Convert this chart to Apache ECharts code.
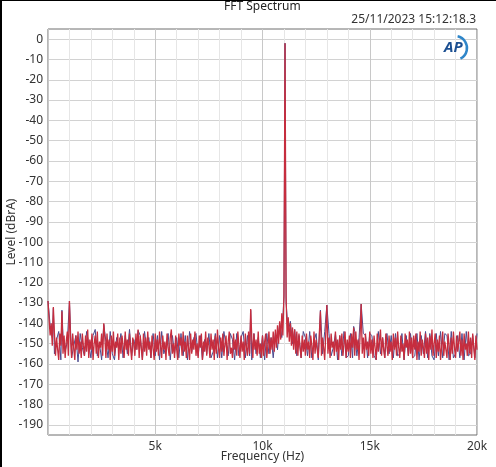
<!DOCTYPE html>
<html>
<head>
<meta charset="utf-8">
<script src="https://cdn.jsdelivr.net/npm/echarts@6/dist/echarts.min.js"></script>
<style>
html, body { margin: 0; padding: 0; background: #fff; }
#main {
  width: 496px;
  height: 467px;
  box-sizing: border-box;
  border-top: 1px solid #000;
  border-left: 2px solid #000;
}
</style>
</head>
<body>
<div id="main"></div>
<script>
// channel A (red): FFT bins 50 Hz apart, 0 .. 20 kHz
const redBinHz = 50;
const levelRed = [
  -129, -138, -146, -140, -151, -150, -145, -156, -147, -153, -158, -145, -151, -150, -155, -146, -157, -149, -144, -156,
  -150, -147, -157, -145, -152, -158, -146, -153, -144, -155, -149, -157, -145, -151, -156, -146, -154, -143, -157, -148,
  -153, -145, -158, -150, -146, -155, -144, -157, -149, -152, -145, -156, -150, -147, -157, -145, -153, -148, -158, -146,
  -154, -144, -156, -149, -152, -145, -158, -147, -155, -146, -151, -157, -144, -153, -148, -156, -145, -152, -158, -147,
  -150, -156, -145, -153, -150, -157, -146, -152, -158, -145, -154, -147, -156, -144, -153, -149, -157, -146, -152, -158,
  -145, -154, -148, -156, -144, -151, -157, -146, -153, -149, -158, -145, -152, -156, -147, -143, -155, -150, -157, -146,
  -153, -158, -145, -151, -147, -156, -144, -154, -149, -157, -146, -152, -158, -145, -155, -148, -153, -144, -156, -150,
  -157, -146, -152, -145, -158, -149, -154, -144, -156, -147, -151, -157, -145, -153, -148, -158, -146, -155, -143, -152,
  -157, -147, -154, -145, -156, -150, -146, -158, -149, -144, -155, -152, -157, -145, -153, -148, -156, -144, -151, -157,
  -146, -154, -149, -158, -145, -152, -156, -144, -155, -150, -147, -157, -145, -153, -148, -156, -144, -155, -150, -157,
  -146, -156, -149, -145, -157, -151, -144, -155, -147, -153, -144, -154, -143, -152, -141, -150, -139, -148, -135, -146,
  -126, -120, -127, -147, -137, -149, -140, -151, -142, -153, -143, -155, -144, -156, -145, -152, -157, -146, -154, -148,
  -156, -145, -153, -149, -157, -146, -151, -158, -144, -155, -148, -153, -157, -145, -150, -156, -147, -152, -158, -145,
  -150, -155, -147, -157, -145, -152, -149, -156, -144, -154, -148, -158, -146, -153, -145, -156, -150, -144, -157, -148,
  -154, -146, -157, -145, -152, -150, -156, -144, -153, -148, -158, -146, -150, -155, -147, -157, -145, -153, -149, -156,
  -144, -155, -148, -157, -146, -152, -158, -145, -154, -149, -143, -156, -147, -153, -157, -145, -151, -156, -146, -154,
  -149, -158, -145, -153, -147, -156, -144, -152, -157, -146, -154, -150, -158, -145, -152, -148, -156, -144, -155, -147,
  -157, -146, -153, -145, -158, -149, -154, -144, -156, -148, -152, -157, -145, -155, -147, -158, -146, -153, -143, -156,
  -150, -145, -157, -148, -154, -146, -158, -152, -144, -156, -149, -153, -157, -145, -151, -158, -147, -155, -144, -152,
  -157, -146, -154, -149, -144, -156, -148, -158, -145, -153, -150, -156, -144, -155, -147, -157, -145, -152, -158, -146,
  -153
];

// channel B (blue): FFT bins 100 Hz apart, 0 .. 20 kHz
const blueBinHz = 100;
const levelBlue = [
  -129, -141, -147, -155, -148, -144, -158, -146, -154, -149,
  -144, -157, -151, -146, -159, -145, -152, -156, -144, -150,
  -157, -146, -143, -156, -150, -158, -145, -149, -157, -144,
  -155, -158, -147, -152, -145, -157, -146, -155, -143, -156,
  -148, -153, -145, -146, -158, -144, -152, -147, -157, -145,
  -156, -146, -158, -144, -155, -151, -145, -158, -146, -155,
  -147, -157, -145, -156, -146, -158, -144, -154, -147, -145,
  -156, -146, -158, -148, -155, -145, -157, -154, -145, -157,
  -146, -157, -144, -151, -156, -145, -148, -158, -145, -156,
  -147, -144, -157, -146, -156, -158, -145, -155, -147, -157,
  -146, -158, -145, -155, -147, -157, -145, -153, -140, -147,
  -127, -130, -144, -139, -150, -143, -156, -146, -157, -144,
  -147, -156, -144, -157, -149, -145, -158, -146, -155, -144,
  -157, -145, -156, -152, -145, -158, -146, -156, -144, -157,
  -156, -145, -157, -144, -156, -147, -158, -145, -146, -157,
  -145, -146, -156, -158, -144, -155, -147, -157, -145, -155,
  -146, -157, -145, -156, -155, -145, -158, -146, -156, -145,
  -157, -156, -145, -158, -146, -155, -144, -157, -145, -156,
  -158, -145, -156, -144, -157, -145, -146, -158, -144, -157,
  -155, -146, -157, -145, -158, -144, -156, -155, -146, -157,
  -145
];

// main tone and spurs (Hz) with their levels in each channel
const spurFreq = [250, 650, 1000, 2600, 4200, 9450, 11050, 12700, 13000, 14250, 14600];
const spurRed  = [-132, -134, -129, -140, -143, -133, -2, -134, -131, -142, -130.5];
const spurBlue = [-132.5, -133.5, -129, -140.5, -143.5, -133.5, -2, -133.5, -131, -141.5, -130.5];

const yLabels = [0, -10, -20, -30, -40, -50, -60, -70, -80, -90, -100,
  -110, -120, -130, -140, -150, -160, -170, -180, -190];
const xLabels = { 5000: "5k", 10000: "10k", 15000: "15k", 20000: "20k" };

function buildPoints(levels, binHz, spurs) {
  let byFreq = {};
  levels.forEach((v, i) => { byFreq[i * binHz] = v; });
  spurFreq.forEach((f, k) => { byFreq[f] = spurs[k]; });
  return Object.keys(byFreq)
    .map(Number)
    .sort((a, b) => a - b)
    .map(f => [f, byFreq[f]]);
}

var myChart = echarts.init(document.getElementById("main"));
var labelFont = "'Noto Sans', 'Open Sans', sans-serif";

myChart.setOption({
  animation: false,
  textStyle: { fontFamily: labelFont },
  grid: {
    left: 46, right: 19, top: 28, bottom: 32,
    outerBoundsMode: "none",
    containLabel: false,
    show: true, borderColor: "#6e6e6e", borderWidth: 1, backgroundColor: "#fff"
  },
  graphic: [
    { type: "text", left: 222, top: 0, style: { text: "FFT Spectrum", fill: "#222", font: "12px " + labelFont } },
    { type: "text", right: 20, top: 13, style: { text: "25/11/2023 15:12:18.3", fill: "#333", font: "12px " + labelFont } },
    { type: "arc", shape: { cx: 453, cy: 47, r: 12, startAngle: -1.35, endAngle: 1.1, clockwise: true }, style: { stroke: "#2f86c9", lineWidth: 2.5, fill: null }, z: 100 },
    { type: "text", left: 442, top: 39, style: { text: "AP", fill: "#1b4f91", font: "italic bold 15px " + labelFont }, z: 101 }
  ],
  xAxis: {
    type: "value",
    min: 0,
    max: 20000,
    interval: 1000,
    name: "Frequency (Hz)",
    nameLocation: "middle",
    nameGap: 16,
    nameMoveOverlap: false,
    nameTextStyle: { color: "#333", fontSize: 12 },
    axisLine: { show: false },
    axisTick: { show: false },
    axisLabel: {
      color: "#333",
      fontSize: 12,
      margin: 6,
      showMinLabel: true,
      showMaxLabel: true,
      formatter: function (v) { return xLabels[v] || ""; }
    },
    splitLine: { show: true, lineStyle: { color: ["#c8c8c8", "#e6e6e6", "#e6e6e6", "#e6e6e6", "#e6e6e6"], width: 1 } }
  },
  yAxis: {
    type: "value",
    min: -195,
    max: 5,
    interval: 5,
    name: "Level (dBrA)",
    nameLocation: "middle",
    nameGap: 30,
    nameMoveOverlap: false,
    nameTextStyle: { color: "#333", fontSize: 12 },
    axisLine: { show: false },
    axisTick: { show: false },
    axisLabel: {
      color: "#333",
      fontSize: 12,
      margin: 5,
      formatter: function (v) { return yLabels.indexOf(v) >= 0 ? String(v) : ""; }
    },
    splitLine: { show: true, lineStyle: { color: ["rgba(0,0,0,0)", "#d2d2d2"], width: 1 } }
  },
  series: [
    {
      name: "Ch B",
      type: "line",
      data: buildPoints(levelBlue, blueBinHz, spurBlue),
      showSymbol: false,
      sampling: null,
      lineStyle: { color: "#4b4a8e", width: 1 },
      z: 2
    },
    {
      name: "Ch A",
      type: "line",
      data: buildPoints(levelRed, redBinHz, spurRed),
      showSymbol: false,
      sampling: null,
      lineStyle: { color: "#c62d3e", width: 1.3 },
      z: 3
    }
  ]
});
</script>
</body>
</html>
